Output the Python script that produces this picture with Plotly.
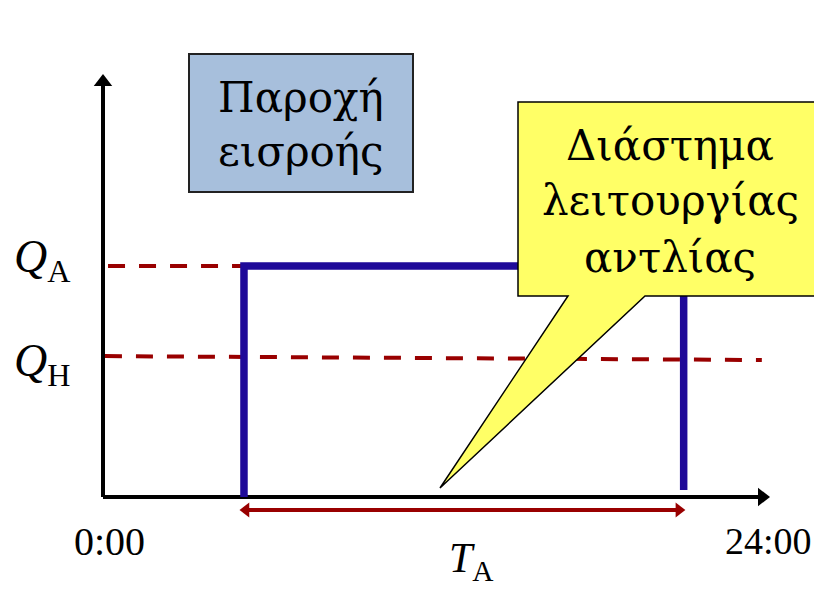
import plotly.graph_objects as go

# tiempo en horas, caudal relativo a Q_A
axis_t = [0, 24]
axis_labels = ["0:00", "24:00"]
pump_t = [5.05, 5.05, 20.8, 20.8]
pump_q = [0, 1, 1, 0.03]
qa_t = [0.18, 5.2]
qa_q = [1, 1]
qh_t = [0.07, 23.6]
qh_q = [0.61, 0.593]
ta_t = [4.8, 20.95]
y_axis_top = 1.844

inflow_lines = ["Παροχή", "εισροής"]
callout_lines = ["Διάστημα", "λειτουργίας", "αντλίας"]

# la página deja 8px de margen en el body
OFF = 8
W, H = 822 - OFF, 590 - OFF
X0, Y0 = 103 - OFF, 497 - OFF
PX_H = 670 / 24
PX_Q = 231

BLUE = "#1f0a99"
RED = "#990000"
FONT = "Liberation Serif, DejaVu Serif, serif"
GREEK = "DejaVu Serif, serif"


def paper(x, y):
    return (x - OFF) / W, 1 - (y - OFF) / H


def path(points):
    pts = [paper(x, y) for x, y in points]
    return "M " + " L ".join(f"{a:.5f},{b:.5f}" for a, b in pts) + " Z"


fig = go.Figure()

# ejes
fig.add_trace(go.Scatter(x=[0, axis_t[1] - 11 / PX_H], y=[0, 0], mode="lines",
                         line=dict(color="black", width=4), hoverinfo="skip"))
fig.add_trace(go.Scatter(x=[0, 0], y=[0, y_axis_top - 11 / PX_Q], mode="lines",
                         line=dict(color="black", width=4), hoverinfo="skip"))
fig.add_trace(go.Scatter(x=[axis_t[1] - 11 / PX_H], y=[0], mode="markers",
                         marker=dict(symbol="triangle-right", size=16, color="black"), hoverinfo="skip"))
fig.add_trace(go.Scatter(x=[0], y=[y_axis_top - 11 / PX_Q], mode="markers",
                         marker=dict(symbol="triangle-up", size=16, color="black"), hoverinfo="skip"))

# niveles Q_A y Q_H
for tt, qq in [(qa_t, qa_q), (qh_t, qh_q)]:
    fig.add_trace(go.Scatter(x=tt, y=qq, mode="lines",
                             line=dict(color=RED, width=4, dash="17px,14px"), hoverinfo="skip"))

# funcionamiento de la bomba
fig.add_trace(go.Scatter(x=pump_t, y=pump_q, mode="lines",
                         line=dict(color=BLUE, width=7.5), hoverinfo="skip"))

# flecha T_A
ta_y = -13 / PX_Q
off = 9 / PX_H
fig.add_trace(go.Scatter(x=[ta_t[0] + off, ta_t[1] - off], y=[ta_y, ta_y], mode="lines",
                         line=dict(color=RED, width=4), hoverinfo="skip"))
fig.add_trace(go.Scatter(x=[ta_t[0] + off], y=[ta_y], mode="markers",
                         marker=dict(symbol="triangle-left", size=13, color=RED), hoverinfo="skip"))
fig.add_trace(go.Scatter(x=[ta_t[1] - off], y=[ta_y], mode="markers",
                         marker=dict(symbol="triangle-right", size=13, color=RED), hoverinfo="skip"))

shapes = [
    dict(type="path", xref="paper", yref="paper", layer="above",
         path=path([(189, 54), (413, 54), (413, 192), (189, 192)]),
         fillcolor="#a7bfdc", line=dict(color="#222222", width=2)),
    dict(type="path", xref="paper", yref="paper", layer="above",
         path=path([(518, 102), (830, 102), (830, 296), (645, 296), (440, 488), (568, 296), (518, 296)]),
         fillcolor="#ffff66", line=dict(color="black", width=1.5)),
]

annotations = []


def text(s, x, y, size, family=FONT):
    px, py = paper(x, y)
    annotations.append(dict(text=s, x=px, y=py, xref="paper", yref="paper",
                            xanchor="center", yanchor="middle", showarrow=False,
                            font=dict(family=family, size=size, color="black")))


text(inflow_lines[0], 301, 97, 42, GREEK)
text(inflow_lines[1], 301, 151, 42, GREEK)
for s, yb in zip(callout_lines, [160, 216, 272]):
    text(s, 670, yb - 15, 42, GREEK)
text("<i>Q</i><sub>A</sub>", 42, 260, 46)
text("<i>Q</i><sub>H</sub>", 42, 364, 46)
text("<i>T</i><sub>A</sub>", 471, 561, 42)
text(axis_labels[0], X0 + OFF + axis_t[0] * PX_H + 6, 541, 40)
text(axis_labels[1], X0 + OFF + axis_t[1] * PX_H - 5, 541, 38)

fig.update_layout(
    width=W, height=H,
    margin=dict(l=0, r=0, t=0, b=0),
    paper_bgcolor="white", plot_bgcolor="white",
    showlegend=False,
    shapes=shapes,
    annotations=annotations,
    xaxis=dict(range=[-X0 / PX_H, (W - X0) / PX_H], visible=False, fixedrange=True),
    yaxis=dict(range=[(Y0 - H) / PX_Q, Y0 / PX_Q], visible=False, fixedrange=True),
)

fig.write_html("out.html")
